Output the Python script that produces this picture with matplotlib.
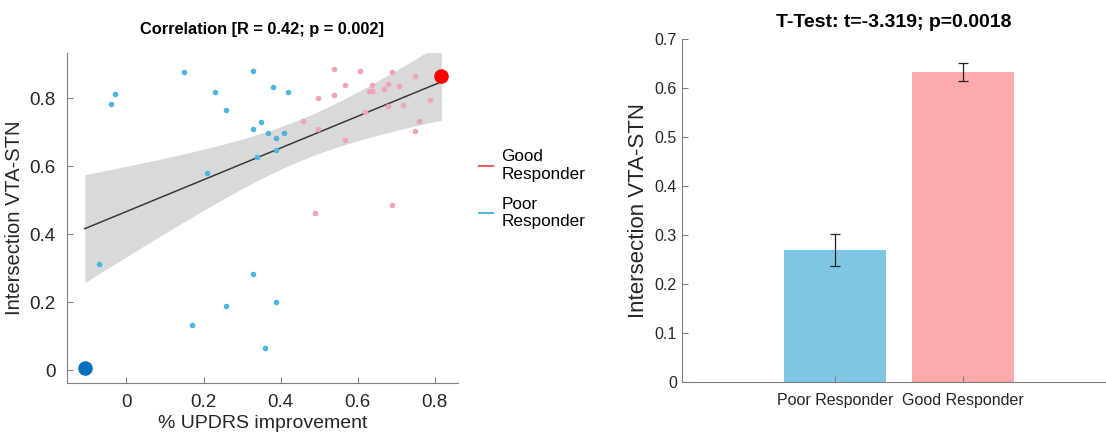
import numpy as np
import matplotlib.pyplot as plt
from matplotlib.lines import Line2D

plt.rcParams['font.family'] = ['Liberation Sans', 'DejaVu Sans']

# Scatter data (% UPDRS improvement, intersection VTA-STN)
poor_x = [-0.071, -0.040, -0.030, 0.149, 0.229, 0.259, 0.209, 0.170, 0.259,
          0.329, 0.379, 0.419, 0.349, 0.329, 0.368, 0.389, 0.409, 0.389,
          0.339, 0.329, 0.389, 0.359]
poor_y = [0.311, 0.784, 0.811, 0.878, 0.817, 0.765, 0.580, 0.133, 0.189,
          0.880, 0.834, 0.819, 0.730, 0.708, 0.699, 0.683, 0.697, 0.647,
          0.626, 0.282, 0.200, 0.066]
good_x = [0.459, 0.489, 0.498, 0.498, 0.538, 0.538, 0.568, 0.568, 0.607,
          0.618, 0.628, 0.638, 0.638, 0.668, 0.678, 0.678, 0.688, 0.688,
          0.707, 0.718, 0.748, 0.748, 0.758, 0.788]
good_y = [0.732, 0.462, 0.802, 0.710, 0.885, 0.808, 0.840, 0.678, 0.879,
          0.759, 0.821, 0.839, 0.822, 0.828, 0.843, 0.776, 0.876, 0.485,
          0.837, 0.779, 0.866, 0.704, 0.732, 0.796]
# highlighted extreme cases
worst_pt = (-0.108, 0.005)
best_pt = (0.817, 0.866)

# Bar chart data
groups = ['Poor Responder', 'Good Responder']
means = [0.270, 0.633]
sems = [0.032, 0.019]

blue_dot = '#4db6e2'
pink_dot = '#f2a3b4'

fig = plt.figure(figsize=(11.06, 4.32), dpi=100)

# ---- left: correlation ----
ax1 = fig.add_axes([0.0603, 0.1134, 0.3538, 0.7639])

all_x = np.array(poor_x + good_x + [worst_pt[0], best_pt[0]])
all_y = np.array(poor_y + good_y + [worst_pt[1], best_pt[1]])
slope, icpt = np.polyfit(all_x, all_y, 1)
n = len(all_x)
resid = all_y - (slope * all_x + icpt)
s = np.sqrt(np.sum(resid**2) / (n - 2))
xs = np.linspace(all_x.min(), all_x.max(), 200)
se = s * np.sqrt(1 / n + (xs - all_x.mean())**2 / np.sum((all_x - all_x.mean())**2))
fit = slope * xs + icpt
ax1.fill_between(xs, fit - 2.012 * se, fit + 2.012 * se, color='#d9d9d9', lw=0, zorder=1)
ax1.plot(xs, fit, color='#3a3a3a', lw=1.1, zorder=2)

ax1.scatter(poor_x, poor_y, s=16, color=blue_dot, lw=0, zorder=3)
ax1.scatter(good_x, good_y, s=16, color=pink_dot, lw=0, zorder=3)
ax1.scatter(*worst_pt, s=110, color='#0072bd', lw=0, zorder=4, clip_on=False)
ax1.scatter(*best_pt, s=110, color='#ff0000', lw=0, zorder=4, clip_on=False)

ax1.set_xlim(-0.155, 0.86)
ax1.set_ylim(-0.038, 0.933)
ax1.set_xticks([0, 0.2, 0.4, 0.6, 0.8])
ax1.set_xticklabels(['0', '0.2', '0.4', '0.6', '0.8'])
ax1.set_yticks([0, 0.2, 0.4, 0.6, 0.8])
ax1.set_yticklabels(['0', '0.2', '0.4', '0.6', '0.8'])
ax1.set_xlabel('% UPDRS improvement', fontsize=14, color='#262626', labelpad=3)
ax1.set_ylabel('Intersection VTA-STN', fontsize=14.5, color='#262626', labelpad=4)
ax1.set_title('Correlation [R = 0.42; p = 0.002]', fontsize=11.8, fontweight='bold', pad=14)

handles = [Line2D([], [], color='#f0606a', lw=1.5),
           Line2D([], [], color='#4db6e2', lw=1.5)]
fig.legend(handles, ['Good\nResponder', 'Poor\nResponder'], loc='upper left',
           bbox_to_anchor=(0.4195, 0.69), frameon=False, fontsize=12.3,
           handlelength=0.8, handletextpad=0.5, labelspacing=0.9)

# ---- right: t-test bars ----
ax2 = fig.add_axes([0.6164, 0.115, 0.3836, 0.794])
pos = np.arange(1, len(groups) + 1)
ax2.bar(pos, means, width=0.8, color=['#7ec6e4', '#fcaaaa'], zorder=1)
ax2.errorbar(pos, means, yerr=sems, fmt='none', ecolor='#222222', elinewidth=0.9,
             capsize=3.5, capthick=0.9, zorder=2)
ax2.set_xlim(-0.206, 3.122)
ax2.set_ylim(0, 0.7)
ax2.set_xticks(pos)
ax2.set_xticklabels(groups, fontsize=11.5)
ax2.set_yticks(np.arange(0, 0.71, 0.1))
ax2.set_yticklabels(['0', '0.1', '0.2', '0.3', '0.4', '0.5', '0.6', '0.7'], fontsize=11.5)
ax2.set_ylabel('Intersection VTA-STN', fontsize=16, color='#262626', labelpad=4)
ax2.set_title('T-Test: t=-3.319; p=0.0018', fontsize=14, fontweight='bold', pad=9)

for ax in (ax1, ax2):
    for side in ('top', 'right'):
        ax.spines[side].set_visible(False)
    for side in ('left', 'bottom'):
        ax.spines[side].set_color('#808080')
        ax.spines[side].set_linewidth(0.8)
    ax.tick_params(direction='in', length=4, width=0.8, color='#808080',
                   labelcolor='#262626')
ax1.tick_params(labelsize=13.5, pad=8)
ax2.tick_params(axis='x', pad=8)

fig.savefig('out.png', dpi=100)
